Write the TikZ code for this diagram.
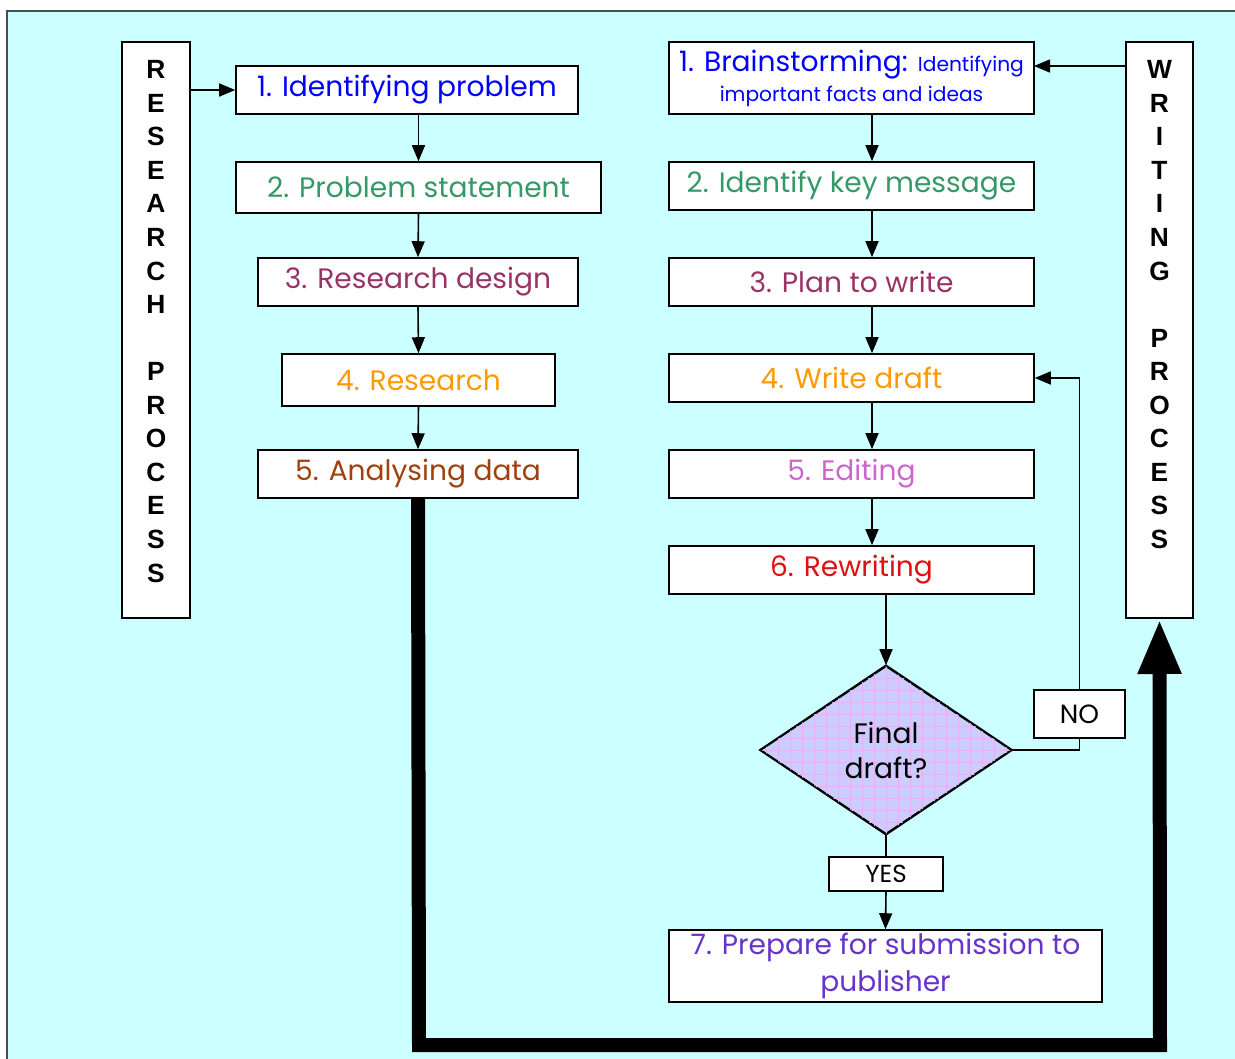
\documentclass[tikz,border=0pt]{standalone}
\usepackage{fontspec}
\setmainfont{Poppins}
\newfontfamily\capsfont{Liberation Sans}
\usetikzlibrary{arrows.meta,shapes.geometric}

\definecolor{skyback}{HTML}{CCFFFF}
\definecolor{diamondfill}{HTML}{CCCCFF}
\definecolor{gridpink}{HTML}{DDB4F4}
\definecolor{cblue}{HTML}{0000FF}
\definecolor{cgreen}{HTML}{339966}
\definecolor{cmaroon}{HTML}{993366}
\definecolor{corange}{HTML}{FF9900}
\definecolor{cbrown}{HTML}{A0400F}
\definecolor{cpink}{HTML}{CC66CC}
\definecolor{cred}{HTML}{DD1111}
\definecolor{cpurple}{HTML}{6633CC}

\begin{document}
\begin{tikzpicture}[x=0.02cm, y=-0.02cm,
			stepbox/.style={rectangle, draw, fill=white, line width=0.9pt, inner sep=1pt, align=center, font=\fontsize{16}{18}\selectfont},
			sidebox/.style={rectangle, draw, fill=white, line width=1.2pt, inner sep=0pt, minimum width=1.35cm, minimum height=11.52cm},
			arr/.style={line width=0.9pt, -{Triangle[width=0.26cm,length=0.32cm]}},
			line/.style={line width=0.9pt}
			]
			
			\useasboundingbox (0,0) rectangle (1235,1059);
			\draw[fill=skyback, draw=black!70, line width=0.8pt] (7,11) rectangle (1250,1075);
			
			% Nodes
			\node[sidebox] (res) at (156,330) {\parbox[c][11.52cm][t]{1cm}{\centering\capsfont\bfseries\fontsize{15}{19.1}\selectfont
				\vspace*{0.37cm}R\\E\\S\\E\\A\\R\\C\\H\\[19.1pt]P\\R\\O\\C\\E\\S\\S}};
			\node[sidebox] (wri) at (1159.5,330) {\parbox[c][11.52cm][t]{1cm}{\centering\capsfont\bfseries\fontsize{15}{19.1}\selectfont
				\vspace*{0.37cm}W\\R\\I\\T\\I\\N\\G\\[19.1pt]P\\R\\O\\C\\E\\S\\S}};
			
			\node[stepbox, text=cblue, minimum width=6.84cm, minimum height=0.96cm] (p1) at (407,90) {1. Identifying problem};
			\node[stepbox, text=cgreen, minimum width=7.3cm, minimum height=1.02cm] (p2) at (418.5,187.5) {2. Problem statement};
			\node[stepbox, text=cmaroon, minimum width=6.4cm, minimum height=0.96cm] (p3) at (418,282) {3. Research design};
			\node[stepbox, text=corange, minimum width=5.46cm, minimum height=1.04cm] (p4) at (418.5,380) {4. Research};
			\node[stepbox, text=cbrown, minimum width=6.4cm, minimum height=0.96cm] (p5) at (418,474) {5. Analysing data};
			
			\node[stepbox, text=cblue, minimum width=7.3cm, minimum height=1.44cm] (w1) at (851.5,78)
				{{\fontsize{16}{18}\selectfont 1. Brainstorming:} {\fontsize{11.5}{13}\selectfont Identifying}\\[-1pt]
				 {\fontsize{11.5}{13}\selectfont important facts and ideas}};
			\node[stepbox, text=cgreen, minimum width=7.3cm, minimum height=0.96cm] (w2) at (851.5,186) {2. Identify key message};
			\node[stepbox, text=cmaroon, minimum width=7.3cm, minimum height=0.96cm] (w3) at (851.5,282) {3. Plan to write};
			\node[stepbox, text=corange, minimum width=7.3cm, minimum height=0.96cm] (w4) at (851.5,378) {4. Write draft};
			\node[stepbox, text=cpink, minimum width=7.3cm, minimum height=0.96cm] (w5) at (851.5,474) {5. Editing};
			\node[stepbox, text=cred, minimum width=7.3cm, minimum height=0.96cm] (w6) at (851.5,570) {6. Rewriting};
			
			\node[diamond, draw, fill=diamondfill, line width=0.9pt, inner sep=0pt, aspect=1.5,
				minimum width=5.02cm, minimum height=3.36cm] (fin) at (886,750) {};
			\begin{scope}
				\clip (fin.north) -- (fin.east) -- (fin.south) -- (fin.west) -- cycle;
				\foreach \i in {766,778,...,1006} \draw[gridpink, line width=0.3pt] (\i,660) -- (\i,840);
				\foreach \j in {666,678,...,834} \draw[gridpink, line width=0.3pt] (755,\j) -- (1015,\j);
			\end{scope}
			\draw[line width=0.9pt] (fin.north) -- (fin.east) -- (fin.south) -- (fin.west) -- cycle;
			\node[align=center, font=\fontsize{16}{20}\selectfont] (fintext) at (fin) {Final\\draft?};
			
			\node[stepbox, text=black, minimum width=1.82cm, minimum height=0.96cm, font=\fontsize{15}{17}\selectfont] (no) at (1079.5,714) {NO};
			\node[stepbox, text=black, minimum width=2.28cm, minimum height=0.68cm, font=\fontsize{14}{16}\selectfont] (yes) at (886,874) {YES};
			\node[stepbox, text=cpurple, minimum width=8.66cm, minimum height=1.44cm] (w7) at (885.5,966)
				{7. Prepare for submission to\\[3pt] publisher};
			
			\coordinate (rc) at (872,0);
			\coordinate (bt) at (1034,66);
			
			% Edges
			\draw[arr] (res.east |- p1.west) -- (p1.west);
			\draw[arr] (p1.south -| p2.north) -- (p2.north);
			\draw[arr] (p2.south) -- (p3.north);
			\draw[arr] (p3.south) -- (p4.north);
			\draw[arr] (p4.south) -- (p5.north);
			
			\draw[arr] (wri.west |- bt) -- (bt);
			\draw[arr] (w1.south -| rc) -- (w2.north -| rc);
			\draw[arr] (w2.south -| rc) -- (w3.north -| rc);
			\draw[arr] (w3.south -| rc) -- (w4.north -| rc);
			\draw[arr] (w4.south -| rc) -- (w5.north -| rc);
			\draw[arr] (w5.south -| rc) -- (w6.north -| rc);
			\draw[arr] (w6.south -| fin.north) -- (fin.north);
			
			\draw[line] (fin.east) -| (no.south);
			\draw[arr] (no.north) |- (w4.east);
			\draw[line] (fin.south) -- (yes.north);
			\draw[arr] (yes.south) -- (w7.north);
			
			\draw[line width=0.28cm, line join=miter, -{Triangle[width=0.8cm,length=1.1cm]}]
				(p5.south) -- (419,1045) -- (1160,1045) -- (wri.south);
			
		\end{tikzpicture}
\end{document}
